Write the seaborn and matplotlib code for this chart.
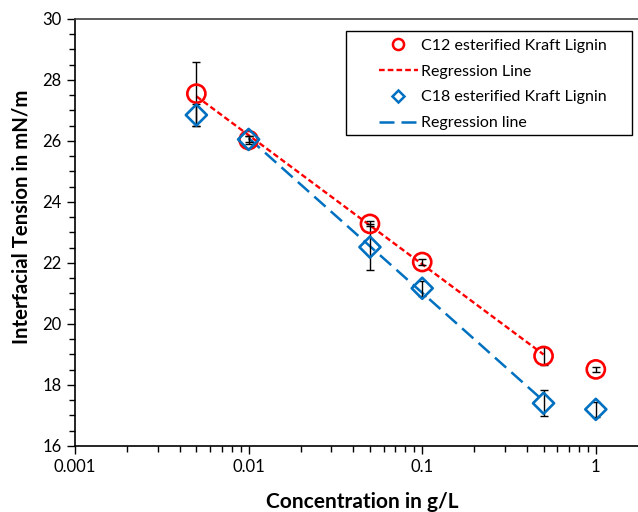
import numpy as np
import seaborn as sns
import matplotlib.pyplot as plt
from matplotlib.lines import Line2D
from matplotlib.patches import Rectangle
from matplotlib.legend_handler import HandlerLine2D
from matplotlib.ticker import MultipleLocator, LogLocator, FuncFormatter, NullFormatter

# data
conc = [0.005, 0.01, 0.05, 0.1, 0.5, 1.0]          # g/L
c12_tension = [27.55, 26.03, 23.28, 22.03, 18.95, 18.51]
c12_err = [1.05, 0.12, 0.08, 0.10, 0.30, 0.07]
c18_tension = [26.85, 26.05, 22.52, 21.17, 17.40, 17.20]
c18_err = [0.36, 0.10, 0.75, 0.25, 0.43, 0.25]

# points used for each regression (log-linear fit)
c12_fit_idx = [0, 1, 2, 3, 4]
c18_fit_idx = [1, 2, 3, 4]

RED = "#FF0000"
BLUE = "#0070C0"

sns.set_style("ticks")
plt.rcParams["font.family"] = ["Lato", "DejaVu Sans"]
plt.rcParams["text.color"] = "black"
plt.rcParams["axes.labelcolor"] = "black"


def fit_line(idx, yvals):
    xs = np.log10(np.array(conc)[idx])
    ys = np.array(yvals)[idx]
    k, b = np.polyfit(xs, ys, 1)
    x_end = np.array([xs.min(), xs.max()])
    return 10 ** x_end, k * x_end + b


fig = plt.figure(figsize=(6.38, 5.12), dpi=100)
ax = fig.add_axes([0.1176, 0.129, 0.8824, 0.834])

# regression lines
x12, y12 = fit_line(c12_fit_idx, c12_tension)
x18, y18 = fit_line(c18_fit_idx, c18_tension)
sns.lineplot(x=x12, y=y12, ax=ax, color=RED, linewidth=1.7,
             linestyle=(0, (2.4, 1.3)), zorder=2)
sns.lineplot(x=x18, y=y18, ax=ax, color=BLUE, linewidth=1.8,
             linestyle=(0, (6, 2.8)), zorder=2)

# error bars
ax.errorbar(conc, c12_tension, yerr=c12_err, fmt="none", ecolor="black",
            elinewidth=1, capsize=3, capthick=1, zorder=3)
ax.errorbar(conc, c18_tension, yerr=c18_err, fmt="none", ecolor="black",
            elinewidth=1, capsize=3, capthick=1, zorder=3)

# markers
sns.scatterplot(x=conc, y=c12_tension, ax=ax, marker="o", s=170,
                facecolors="none", edgecolor=RED, linewidth=1.9, zorder=4)
sns.scatterplot(x=conc, y=c18_tension, ax=ax, marker="D", s=115,
                facecolors="none", edgecolor=BLUE, linewidth=1.9, zorder=4)

ax.set_xscale("log")
ax.set_xlim(0.001, 1.75)
ax.set_ylim(16, 30)

ax.xaxis.set_major_locator(LogLocator(base=10))
ax.xaxis.set_minor_locator(LogLocator(base=10, subs=np.arange(2, 10)))
ax.xaxis.set_major_formatter(FuncFormatter(lambda v, p: f"{v:g}"))
ax.xaxis.set_minor_formatter(NullFormatter())
ax.yaxis.set_major_locator(MultipleLocator(2))
ax.yaxis.set_minor_locator(MultipleLocator(0.5))

ax.tick_params(axis="both", which="major", length=6, width=1, color="black",
               labelsize=12, labelcolor="black", direction="out")
ax.tick_params(axis="both", which="minor", length=4, width=1, color="black",
               direction="out")

sns.despine(ax=ax, top=False)
for side in ["left", "bottom"]:
    ax.spines[side].set_color("black")
    ax.spines[side].set_linewidth(1.2)
ax.spines["top"].set_color("#404040")
ax.spines["top"].set_linewidth(1.2)

ax.set_xlabel("Concentration in g/L", fontsize=15, fontweight="bold")
ax.set_ylabel("Interfacial Tension in mN/m", fontsize=14.7, fontweight="bold")
ax.xaxis.set_label_coords(0.51, -0.108)
ax.yaxis.set_label_coords(-0.078, 0.536)

handles = [
    Line2D([], [], linestyle="none", marker="o", markersize=8,
           markerfacecolor="none", markeredgecolor=RED, markeredgewidth=1.8),
    Line2D([], [], color=RED, linewidth=1.7, linestyle=(0, (2.4, 1.3))),
    Line2D([], [], linestyle="none", marker="D", markersize=6,
           markerfacecolor="none", markeredgecolor=BLUE, markeredgewidth=1.8),
    Line2D([], [], color=BLUE, linewidth=1.8, linestyle=(0, (6, 2.8))),
]
labels = ["C12 esterified Kraft Lignin", "Regression Line",
          "C18 esterified Kraft Lignin", "Regression line"]

# legend box (Excel style, wide right padding)
box_x0, box_x1 = 0.4813, 0.9893
box_y0, box_y1 = 0.7283, 0.972
ax.add_patch(Rectangle((box_x0, box_y0), box_x1 - box_x0, box_y1 - box_y0,
                       transform=ax.transAxes, fill=False, edgecolor="black",
                       linewidth=1, clip_on=False, zorder=5))
ax.legend(handles, labels, loc="upper left",
          bbox_to_anchor=(box_x0, box_y1), borderaxespad=0,
          fontsize=11.5, frameon=False, handlelength=4.0,
          handletextpad=0.2, labelspacing=0.72, borderpad=0.5,
          handler_map={Line2D: HandlerLine2D(xpad=1.55)})

fig.savefig("out.png", dpi=100)
